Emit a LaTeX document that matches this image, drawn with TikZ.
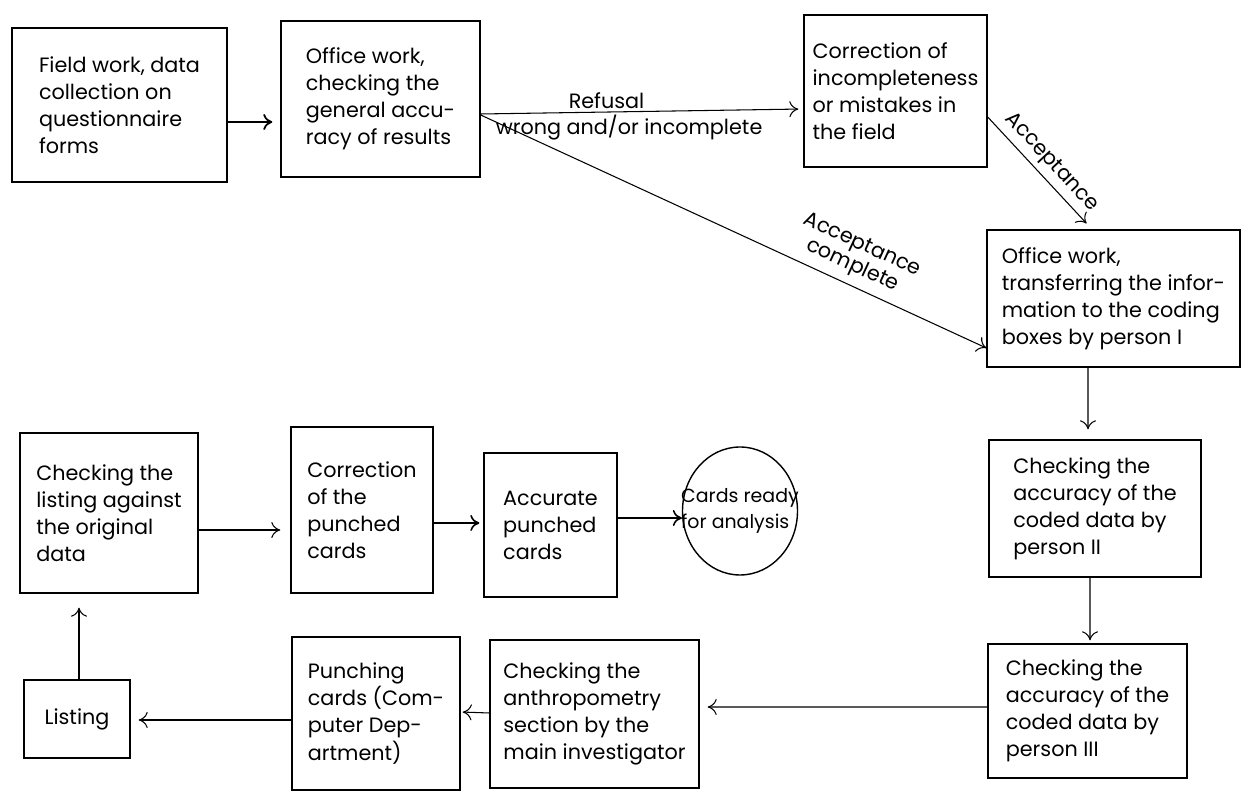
\documentclass[tikz,border=0pt]{standalone}
\usepackage{fontspec}
\setmainfont{Poppins}
\usetikzlibrary{shapes.geometric, arrows.meta}

\tikzset{
  procbox/.style={draw, line width=0.8pt, align=left, inner sep=0pt,
    font=\fontsize{11.8}{15.4}\selectfont},
  flowlbl/.style={font=\fontsize{11.8}{13}\selectfont, inner sep=1.5pt},
}

\begin{document}
\begin{tikzpicture}[->, semithick, >={To[length=1.8mm, width=3.2mm]}]
  \useasboundingbox (0,0) rectangle (24.84,-15.86);

  \node[procbox, minimum width=4.3cm, minimum height=3.08cm] (field) at (2.39,-2.10)
    {Field work, data\\collection on\\questionnaire\\forms};
  \node[procbox, minimum width=3.98cm, minimum height=3.12cm] (office) at (7.61,-1.98)
    {Office work,\\checking the\\general accu-\\racy of results};
  \node[procbox, minimum width=3.66cm, minimum height=3.04cm] (corr) at (17.91,-1.82)
    {Correction of\\incompleteness\\or mistakes in\\the field};
  \node[procbox, minimum width=5.06cm, minimum height=2.74cm] (transfer) at (22.27,-5.97)
    {Office work,\\transferring the infor-\\mation to the coding\\boxes by person I};
  \node[procbox, minimum width=4.24cm, minimum height=2.74cm] (personII) at (21.90,-10.17)
    {Checking the\\accuracy of the\\coded data by\\person II};
  \node[procbox, minimum width=3.98cm, minimum height=2.68cm] (personIII) at (21.75,-14.22)
    {Checking the\\accuracy of the\\coded data by\\person III};
  \node[procbox, minimum width=4.18cm, minimum height=2.96cm] (anthro) at (11.89,-14.28)
    {Checking the\\anthropometry\\section by the\\main investigator};
  \node[procbox, minimum width=3.36cm, minimum height=3.06cm] (punching) at (7.52,-14.27)
    {Punching\\cards (Com-\\puter Dep-\\artment)};
  \node[procbox, minimum width=2.12cm, minimum height=1.56cm] (listing) at (1.54,-14.38)
    {Listing};
  \node[procbox, minimum width=3.56cm, minimum height=3.2cm] (chklist) at (2.18,-10.26)
    {Checking the\\listing against\\the original\\data};
  \node[procbox, minimum width=2.84cm, minimum height=3.32cm] (corrpunch) at (7.24,-10.20)
    {Correction\\of the\\punched\\cards};
  \node[procbox, minimum width=2.66cm, minimum height=2.88cm] (accurate) at (11.01,-10.50)
    {Accurate\\punched\\cards};
  \node[procbox, ellipse, minimum width=2.3cm, minimum height=2.56cm, inner xsep=-0.8cm,
    font=\fontsize{10.8}{14.5}\selectfont] (ready) at (14.80,-10.22)
    {Cards ready\\for analysis};

  \draw[line width=1pt, shorten >=0.16cm] ([yshift=-0.34cm]field.east) -- ([yshift=-0.46cm]office.west);
  \draw[shorten >=0.1cm] ([yshift=-0.3cm]office.east) -- ([yshift=-0.36cm]corr.west)
    node[flowlbl, above, pos=0.39] {Refusal}
    node[flowlbl, below, pos=0.46] {wrong and/or incomplete};
  \draw ([yshift=-0.32cm]office.east) -- ([yshift=-0.99cm]transfer.west)
    node[flowlbl, above=0.1cm, sloped, pos=0.72, align=center] {Acceptance\\complete};
  \draw[shorten >=0.16cm] ([yshift=-0.52cm]corr.east) -- ([xshift=-0.43cm]transfer.north)
    node[flowlbl, above=0.05cm, sloped, midway] {Acceptance};
  \draw[shorten >=0.2cm] ([xshift=-0.51cm]transfer.south) -- ([xshift=-0.14cm]personII.north);
  \draw[shorten >=0.06cm] ([xshift=-0.1cm]personII.south) -- ([xshift=0.05cm]personIII.north);
  \draw[shorten >=0.16cm] ([yshift=0.08cm]personIII.west) -- ([yshift=0.14cm]anthro.east);
  \draw[shorten >=0.04cm] ([yshift=0.02cm]anthro.west) -- ([yshift=0.03cm]punching.east);
  \draw[shorten >=0.16cm] ([yshift=-0.13cm]punching.west) -- ([yshift=-0.02cm]listing.east);
  \draw[shorten >=0.28cm] ([xshift=0.04cm]listing.north) -- ([xshift=-0.6cm]chklist.south);
  \draw[shorten >=0.2cm] ([yshift=-0.34cm]chklist.east) -- ([yshift=-0.4cm]corrpunch.west);
  \draw[line width=0.9pt, shorten >=0.08cm] ([yshift=-0.26cm]corrpunch.east) -- ([yshift=0.04cm]accurate.west);
  \draw[line width=0.9pt] ([yshift=0.14cm]accurate.east) -- ([yshift=-0.14cm]ready.west);
\end{tikzpicture}
\end{document}
